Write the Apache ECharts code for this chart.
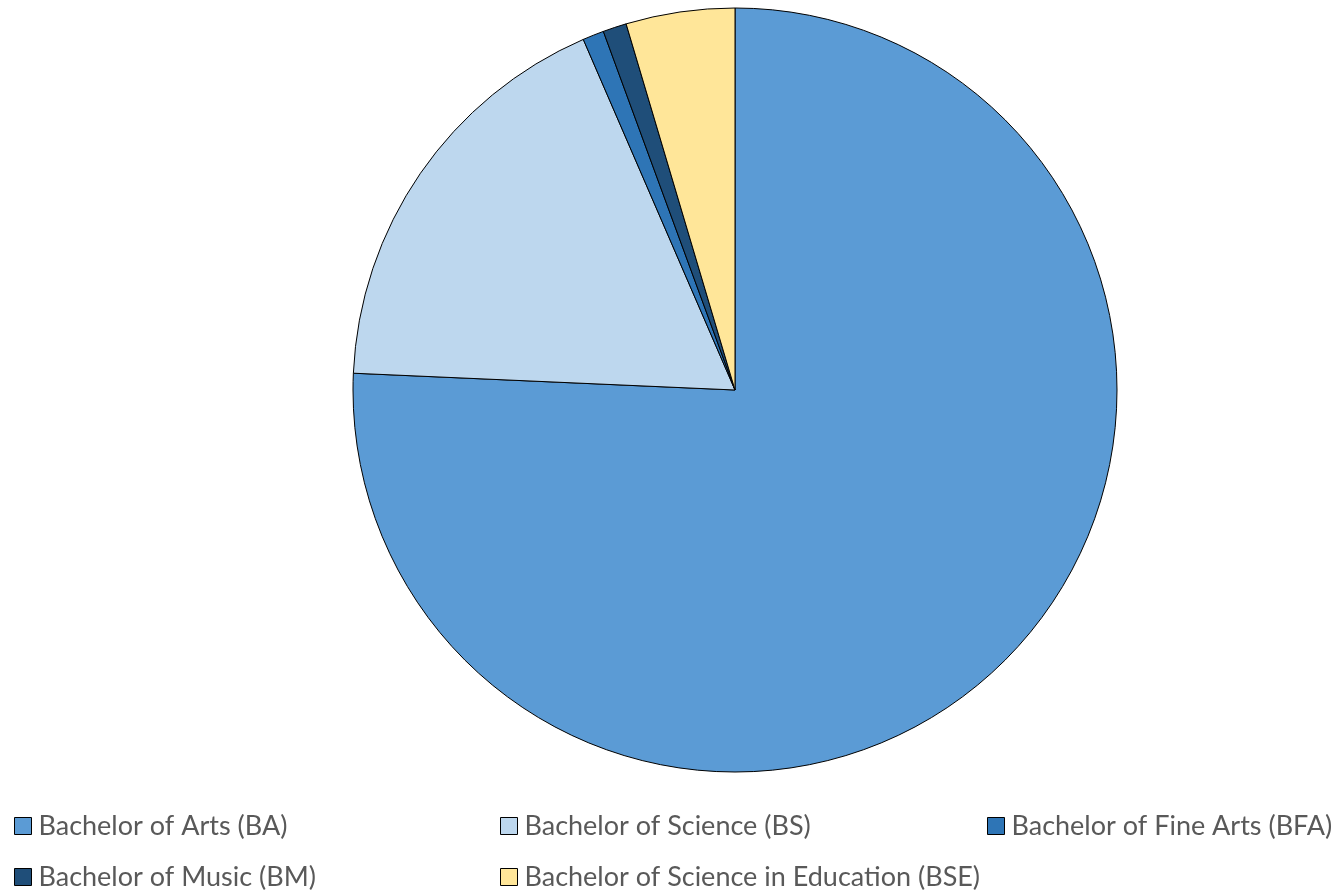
<!DOCTYPE html>
<html>
<head>
<meta charset="utf-8">
<script src="https://cdn.jsdelivr.net/npm/echarts@6/dist/echarts.min.js"></script>
<style>
  html, body { margin: 0; padding: 0; background: #ffffff; }
  #chart { width: 1337px; height: 895px; }
</style>
</head>
<body>
<div id="chart"></div>
<script>
// Degree programs and their share of graduates (%)
const categories = [
  'Bachelor of Arts (BA)',
  'Bachelor of Science (BS)',
  'Bachelor of Fine Arts (BFA)',
  'Bachelor of Music (BM)',
  'Bachelor of Science in Education (BSE)'
];
const shares = [75.7, 17.8, 0.9, 1.0, 4.6];
const colors = ['#5B9BD5', '#BDD7EE', '#2E75B6', '#1F4E79', '#FFE699'];

// Legend placement: one legend block per entry, in a 3-column grid
const legendSlots = [
  { left: 14, top: 811 },
  { left: 500, top: 811 },
  { left: 987, top: 811 },
  { left: 14, top: 862 },
  { left: 500, top: 862 }
];

const chart = echarts.init(document.getElementById('chart'), null, { renderer: 'canvas' });

const legendText = {
  fontFamily: 'Lato',
  fontSize: 27,
  lineHeight: 30,
  color: '#595959'
};

const option = {
  backgroundColor: '#ffffff',
  animation: false,
  color: colors,
  legend: categories.map((name, i) => ({
    data: [name],
    left: legendSlots[i].left,
    top: legendSlots[i].top,
    padding: 0,
    icon: 'rect',
    itemWidth: 17,
    itemHeight: 17,
    itemGap: 0,
    selectedMode: false,
    textStyle: Object.assign({ padding: [0, 0, 0, 2] }, legendText),
    itemStyle: { borderColor: '#000000', borderWidth: 1 }
  })),
  series: [{
    type: 'pie',
    center: [735, 390],
    radius: [0, 382],
    startAngle: 90,
    clockwise: true,
    label: { show: false },
    labelLine: { show: false },
    emphasis: { disabled: true },
    itemStyle: { borderColor: '#000000', borderWidth: 1 },
    data: categories.map((name, i) => ({
      name: name,
      value: shares[i],
      itemStyle: { color: colors[i] }
    }))
  }]
};

chart.setOption(option);
</script>
</body>
</html>
